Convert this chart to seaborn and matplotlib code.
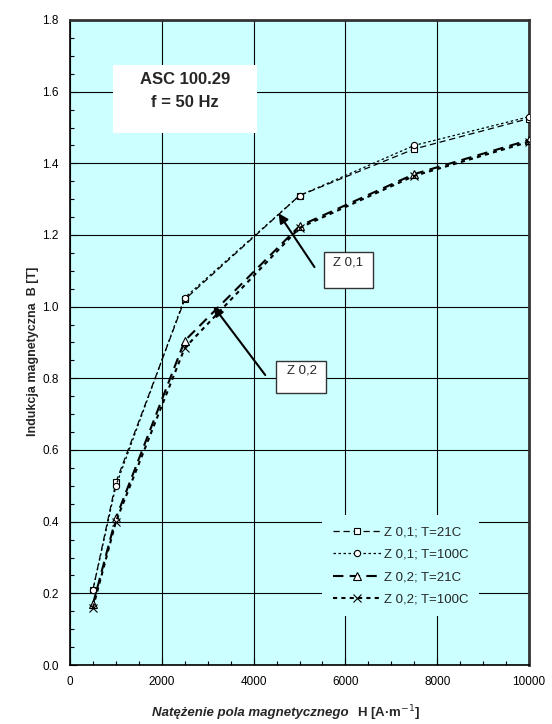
import matplotlib
matplotlib.use("Agg")
import matplotlib.pyplot as plt
from matplotlib.ticker import MultipleLocator
import pandas as pd
import seaborn as sns

# H values [A/m] where measurements were taken
H = [500, 1000, 2500, 5000, 7500, 10000]

# Induction B [T]
b_z01_21 = [0.21, 0.51, 1.02, 1.31, 1.44, 1.525]
b_z01_100 = [0.21, 0.50, 1.025, 1.31, 1.45, 1.53]
b_z02_21 = [0.17, 0.41, 0.905, 1.225, 1.37, 1.465]
b_z02_100 = [0.16, 0.40, 0.885, 1.22, 1.365, 1.46]

labels = ["Z 0,1; T=21C", "Z 0,1; T=100C", "Z 0,2; T=21C", "Z 0,2; T=100C"]

df = pd.concat([
    pd.DataFrame({"H": H, "B": vals, "series": lab})
    for vals, lab in zip([b_z01_21, b_z01_100, b_z02_21, b_z02_100], labels)
])

sns.set_theme(style="white")
plt.rcParams["font.family"] = ["Liberation Sans", "DejaVu Sans"]

fig = plt.figure(figsize=(5.52, 7.24), dpi=100)
ax = fig.add_axes([70 / 552, 1 - 665 / 724, 459 / 552, 645 / 724])
ax.set_facecolor("#CCFFFF")

styles = {
    "Z 0,1; T=21C": dict(marker="s", ls=(0, (5, 3)), lw=0.9, ms=4.5),
    "Z 0,1; T=100C": dict(marker="o", ls=(0, (2, 2)), lw=0.9, ms=4.5),
    "Z 0,2; T=21C": dict(marker="^", ls=(0, (5, 3)), lw=1.5, ms=5.5),
    "Z 0,2; T=100C": dict(marker="x", ls=(0, (2, 2)), lw=1.5, ms=5.5),
}

for lab in labels:
    st = styles[lab]
    sns.lineplot(data=df[df.series == lab], x="H", y="B", ax=ax, color="black",
                 linestyle=st["ls"], linewidth=st["lw"], marker=st["marker"],
                 markersize=st["ms"], markerfacecolor="white",
                 markeredgecolor="black", markeredgewidth=0.8, label=lab, zorder=3)

ax.set_xlim(0, 10000)
ax.set_ylim(0, 1.8)
ax.xaxis.set_major_locator(MultipleLocator(2000))
ax.xaxis.set_minor_locator(MultipleLocator(500))
ax.yaxis.set_major_locator(MultipleLocator(0.2))
ax.yaxis.set_minor_locator(MultipleLocator(0.05))
ax.yaxis.set_major_formatter(matplotlib.ticker.FormatStrFormatter("%.1f"))
ax.grid(True, which="major", color="black", lw=0.8)
ax.tick_params(which="both", direction="in", left=True, bottom=True, labelsize=8.5,
               colors="black", pad=8)
ax.tick_params(which="major", length=5, width=0.8)
ax.tick_params(which="minor", length=3, width=0.8)

for s in ["left", "bottom"]:
    ax.spines[s].set_color("black")
    ax.spines[s].set_linewidth(1.2)
for s in ["top", "right"]:
    ax.spines[s].set_color("#333333")
    ax.spines[s].set_linewidth(2)

ax.set_xlabel("")
ax.set_ylabel("Indukcja magnetyczna  B [T]", fontsize=9, fontweight="bold")
ax.yaxis.set_label_coords(-0.068, 0.486)
ax.text(0.606, -0.075, "Natężenie pola magnetycznego", transform=ax.transAxes,
        ha="right", va="center", fontsize=9.5, fontweight="bold", style="italic")
ax.text(0.625, -0.075, "H [A·m$^{-1}$]", transform=ax.transAxes,
        ha="left", va="center", fontsize=9.5, fontweight="bold")

leg = ax.legend(loc="upper left", bbox_to_anchor=(0.55, 0.232), frameon=True,
                facecolor="#CCFFFF", edgecolor="none", framealpha=1,
                fontsize=9.5, handlelength=3.6, handletextpad=0.25,
                labelspacing=0.78, borderpad=0.8, borderaxespad=0)

# title box
ax.text(2500, 1.635, "ASC 100.29", ha="center", va="center", fontsize=12, fontweight="bold", zorder=5)
ax.text(2500, 1.571, "f = 50 Hz", ha="center", va="center", fontsize=12, fontweight="bold", zorder=5)
ax.add_patch(plt.Rectangle((940, 1.484), 3130, 0.19, facecolor="white", edgecolor="none", zorder=4))

# curve labels with arrows
ax.add_patch(plt.Rectangle((5530, 1.051), 1070, 0.101, facecolor="white",
                           edgecolor="#333333", lw=1, zorder=4))
ax.text(6065, 1.124, "Z 0,1", ha="center", va="center", fontsize=9.5, zorder=5)
ax.annotate("", xy=(4510, 1.267), xytext=(5360, 1.104),
            arrowprops=dict(arrowstyle="-|>", color="black", lw=1.5, mutation_scale=14), zorder=5)

ax.add_patch(plt.Rectangle((4490, 0.758), 1090, 0.089, facecolor="white",
                           edgecolor="#333333", lw=1, zorder=4))
ax.text(5054, 0.822, "Z 0,2", ha="center", va="center", fontsize=9.5, zorder=5)
ax.annotate("", xy=(3090, 1.007), xytext=(4290, 0.803),
            arrowprops=dict(arrowstyle="-|>", color="black", lw=1.5, mutation_scale=14), zorder=5)

fig.savefig("out.png", dpi=100)
